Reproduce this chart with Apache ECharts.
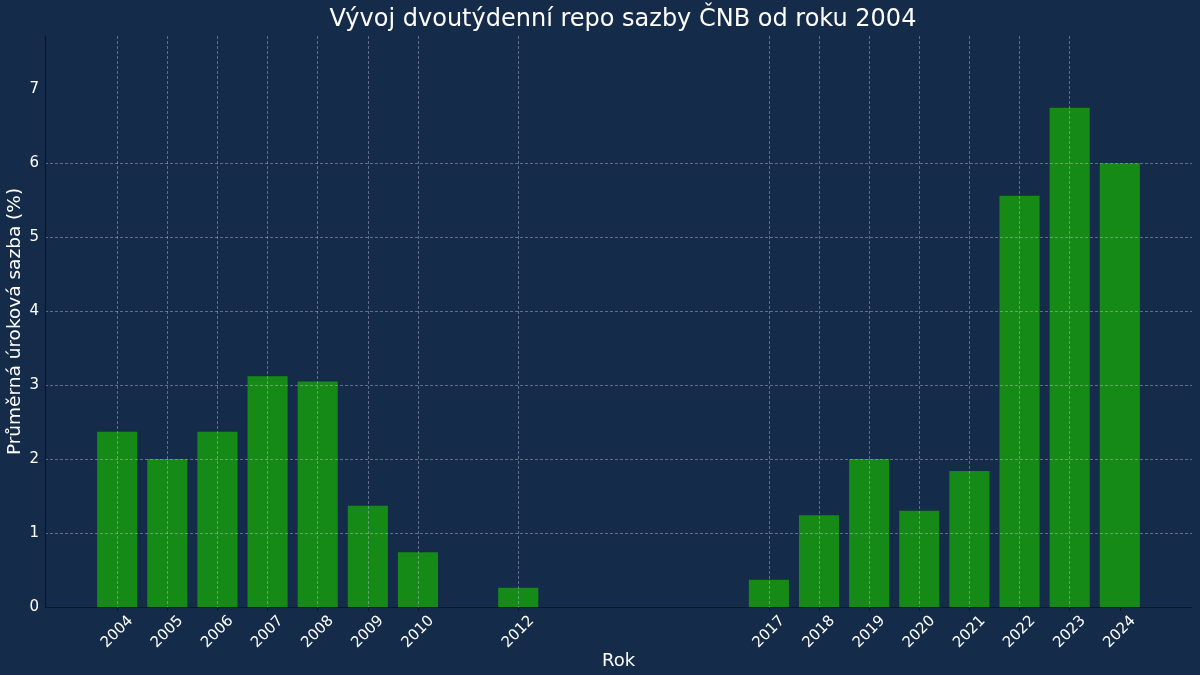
<!DOCTYPE html>
<html>
<head>
<meta charset="utf-8">
<script src="https://cdn.jsdelivr.net/npm/echarts@6/dist/echarts.min.js"></script>
<style>
	html, body { margin: 0; padding: 0; background: #142b4a; }
	#chart { width: 1200px; height: 675px; }
</style>
</head>
<body>
<div id="chart"></div>
<script>
// roky a průměrné sazby
var years = [2004, 2005, 2006, 2007, 2008, 2009, 2010, 2012, 2017, 2018, 2019, 2020, 2021, 2022, 2023, 2024];
var rates = [2.37, 2.0, 2.37, 3.12, 3.05, 1.37, 0.74, 0.26, 0.37, 1.24, 2.0, 1.30, 1.84, 5.56, 6.75, 6.0];
var yTicks = [0, 1, 2, 3, 4, 5, 6, 7];

var xMin = 2002.56, xMax = 2025.44;
var yMax = 7.72;

var gridLeft = 45, gridRight = 8;
var barW = (1200 - gridLeft - gridRight) / (xMax - xMin) * 0.8;

var font = 'DejaVu Sans';
var gridLine = {
	show: true,
	showMaxLine: false,
	lineStyle: {
		color: 'rgba(190, 200, 215, 0.55)',
		width: 0.8,
		type: [3, 2]
	}
};

var seriesData = [];
years.forEach(function(y, i) {
	seriesData.push([y, rates[i]]);
});

var chart = echarts.init(document.getElementById('chart'));
chart.setOption({
	backgroundColor: '#142b4a',
	animation: false,
	title: {
		text: 'Vývoj dvoutýdenní repo sazby ČNB od roku 2004',
		left: 618,
		textAlign: 'center',
		top: 3,
		textStyle: {
			color: '#ffffff',
			fontFamily: font,
			fontWeight: 'normal',
			fontSize: 24
		}
	},
	grid: {
		left: gridLeft,
		right: gridRight,
		top: 36,
		bottom: 68,
		containLabel: false,
		outerBoundsMode: 'none'
	},
	xAxis: {
		type: 'value',
		min: xMin,
		max: xMax,
		z: 3,
		name: 'Rok',
		nameLocation: 'middle',
		nameMoveOverlap: false,
		nameGap: 45,
		nameTextStyle: {
			color: '#ffffff',
			fontFamily: font,
			fontSize: 18
		},
		axisLine: {
			show: true,
			onZero: false,
			lineStyle: { color: '#0c1828', width: 1.2 }
		},
		axisTick: {
			show: true,
			length: 4,
			customValues: years,
			lineStyle: { color: '#0c1828' }
		},
		axisLabel: {
			customValues: years,
			formatter: function(v) { return String(v); },
			rotate: 45,
			align: 'center',
			verticalAlign: 'middle',
			color: '#ffffff',
			fontFamily: font,
			fontSize: 15,
			margin: 25
		},
		splitLine: gridLine
	},
	yAxis: {
		type: 'value',
		min: 0,
		max: yMax,
		z: 3,
		name: 'Průměrná úroková sazba (%)',
		nameLocation: 'middle',
		nameMoveOverlap: false,
		nameGap: 20,
		nameTextStyle: {
			color: '#ffffff',
			fontFamily: font,
			fontSize: 18.5
		},
		axisLine: {
			show: true,
			lineStyle: { color: '#0c1828', width: 1.2 }
		},
		axisTick: {
			show: false,
			customValues: yTicks
		},
		axisLabel: {
			customValues: yTicks,
			color: '#ffffff',
			fontFamily: font,
			fontSize: 15,
			margin: 6
		},
		splitLine: gridLine
	},
	series: [{
		type: 'bar',
		data: seriesData,
		barWidth: barW,
		itemStyle: {
			color: '#168a17'
		}
	}]
});
</script>
</body>
</html>
